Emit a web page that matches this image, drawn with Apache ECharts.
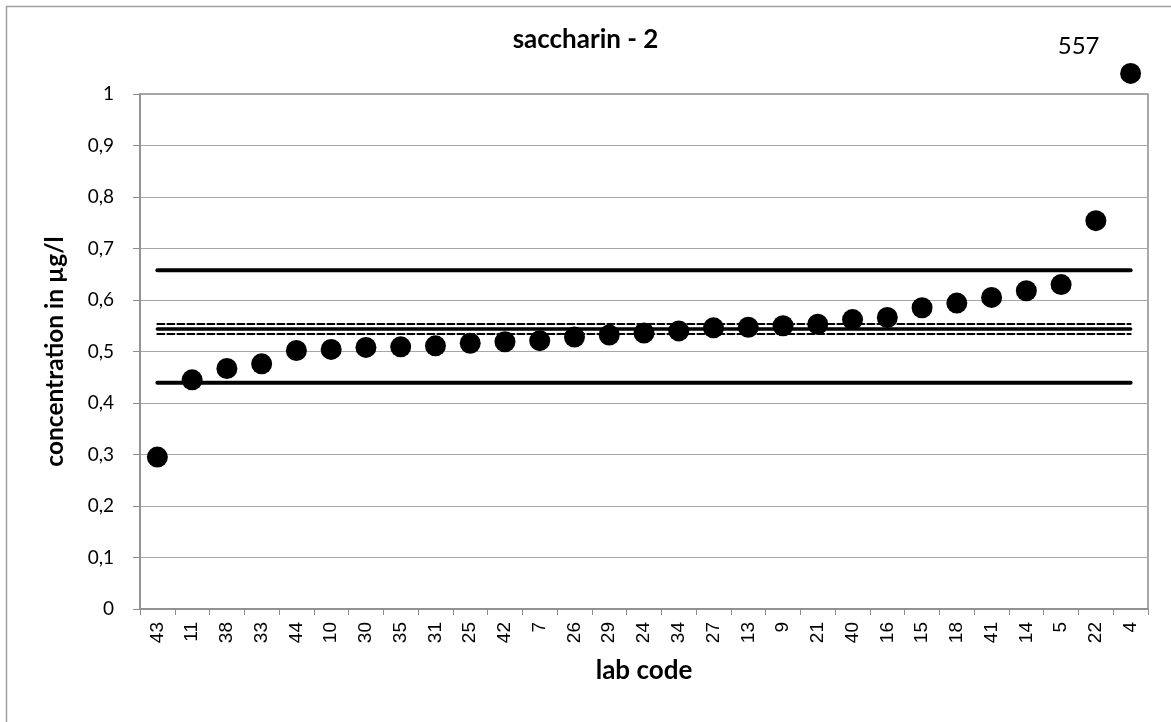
<!DOCTYPE html>
<html>
<head>
<meta charset="utf-8">
<script src="https://cdn.jsdelivr.net/npm/echarts@6/dist/echarts.min.js"></script>
<style>
html,body{margin:0;padding:0;background:#fff;}
#chart{width:1171px;height:722px;}
</style>
</head>
<body>
<div id="chart"></div>
<script>
// ---- data ----
const labCodes = ['43','11','38','33','44','10','30','35','31','25','42','7','26','29','24','34','27','13','9','21','40','16','15','18','41','14','5','22','4'];
const concentrations = [0.295,0.445,0.467,0.476,0.502,0.504,0.508,0.509,0.511,0.516,0.519,0.521,0.528,0.532,0.536,0.540,0.546,0.547,0.550,0.553,0.562,0.566,0.585,0.594,0.605,0.618,0.630,0.754,1.04];
const outlierLabels = {'4':'557'};
const upperLimit = 0.658;
const lowerLimit = 0.4395;
const assignedValue = 0.5437;
const uncertaintyUpper = 0.5534;
const uncertaintyLower = 0.534;
const yTicks = [0,0.1,0.2,0.3,0.4,0.5,0.6,0.7,0.8,0.9,1];

const font = 'Lato, "Open Sans", sans-serif';
const chart = echarts.init(document.getElementById('chart'));

function hline(v, width, type){
  return {
    type:'line',
    data:[[labCodes[0], v],[labCodes[labCodes.length-1], v]],
    symbol:'none',
    lineStyle:{color:'#000', width:width, type:type, cap:'round'},
    z:2, silent:true, animation:false
  };
}

chart.setOption({
  animation:false,
  title:{
    text:'saccharin - 2',
    left:'center', top:22,
    textStyle:{fontFamily:font, fontWeight:'bold', fontSize:26, color:'#000'}
  },
  grid:{left:140, right:23, top:94, bottom:113, show:true, borderColor:'#8c8c8c', borderWidth:1.5, backgroundColor:'transparent'},
  xAxis:{
    type:'category',
    data:labCodes,
    boundaryGap:true,
    name:'lab code',
    nameLocation:'middle',
    nameGap:49,
    nameTextStyle:{fontFamily:font, fontWeight:'bold', fontSize:26, color:'#000'},
    axisLine:{lineStyle:{color:'#8c8c8c', width:1.5}},
    axisTick:{show:true, alignWithLabel:false, length:6, lineStyle:{color:'#8c8c8c'}},
    axisLabel:{rotate:90, interval:0, margin:13, fontFamily:'"Liberation Sans", Arial, sans-serif', fontSize:19, color:'#000'},
    splitLine:{show:false}
  },
  yAxis:{
    type:'value',
    min:0, max:1, interval:0.1,
    name:'concentration in µg/l',
    nameLocation:'middle',
    nameGap:72,
    nameTextStyle:{fontFamily:font, fontWeight:'bold', fontSize:24.5, color:'#000'},
    axisLine:{show:true, lineStyle:{color:'#8c8c8c', width:1.5}},
    axisTick:{show:true, length:7, lineStyle:{color:'#8c8c8c'}},
    axisLabel:{margin:26, fontFamily:font, fontSize:19, color:'#000',
      formatter:function(v){ const t = yTicks.find(x=>Math.abs(x-v)<1e-9); return String(t!==undefined?t:v).replace('.',','); }},
    splitLine:{show:true, lineStyle:{color:'#a6a6a6', width:1.2}}
  },
  series:[
    hline(upperLimit, 4, 'solid'),
    hline(lowerLimit, 4, 'solid'),
    hline(assignedValue, 3.5, 'solid'),
    hline(uncertaintyUpper, 2, [7,3]),
    hline(uncertaintyLower, 2, [7,3]),
    {
      type:'scatter',
      clip:false,
      symbol:'circle',
      symbolSize:21,
      itemStyle:{color:'#000', opacity:1},
      z:5,
      data:labCodes.map((c,i)=>{
        const d = {value:[c, concentrations[i]]};
        if(outlierLabels[c]){
          d.label = {show:true, formatter:outlierLabels[c], position:'inside', offset:[-52,-27], fontFamily:font, fontSize:24, color:'#000'};
        }
        return d;
      })
    }
  ],
  graphic:[{
    type:'rect', left:4, top:4, silent:true, z:-1,
    shape:{width:1200, height:760},
    style:{fill:'none', stroke:'#a0a0a0', lineWidth:1.5}
  }]
});
</script>
</body>
</html>
